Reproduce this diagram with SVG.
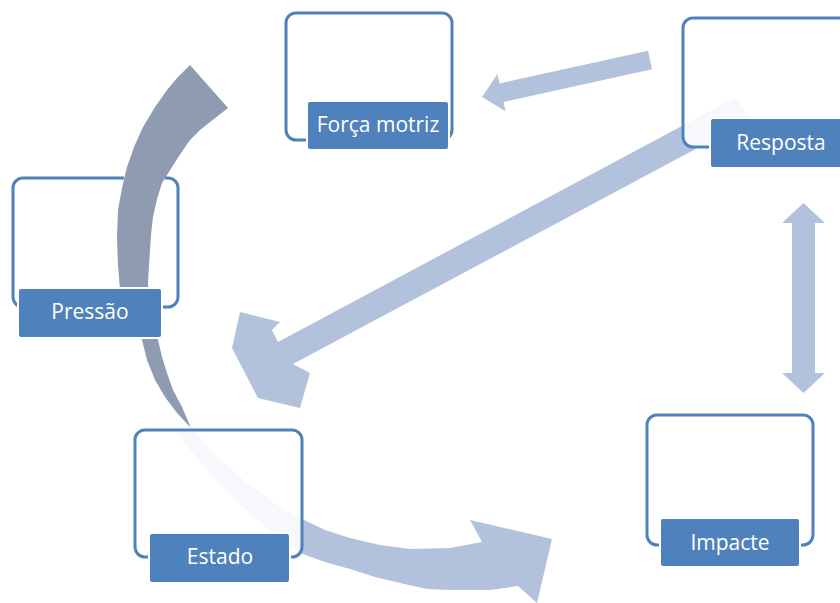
<svg xmlns="http://www.w3.org/2000/svg" width="840" height="603" viewBox="0 0 840 603">
<style>
.frame{fill:#ffffff;fill-opacity:0.88;stroke:#4f81bd;stroke-width:3}
.open{fill:none;stroke:#4f81bd;stroke-width:3}
.label{fill:#4f81bd;stroke:#ffffff;stroke-width:2}
.txt{font-family:"Open Sans","Liberation Sans",sans-serif;font-size:21px;fill:#ffffff;text-anchor:middle}
.arr{fill:#b3c2dc}
.grey{fill:#8e9bb1}
</style>
<rect x="0" y="0" width="840" height="603" fill="#ffffff"/>
<g id="connectors">
  <path class="arr" d="M648,50.7 L499.5,83.4 L497.4,74.1 L482,97 L505.6,111.3 L503.5,102 L652,69.3 Z"/>
  <path class="arr" d="M735,97.5 L278,342 L272,330 L280,322 L240,312 L232,348 L258,398 L300,408 L310,373 L293,364 L750,120 Z"/>
  <path class="arr" d="M803.5,203 L825,223 L815,223 L815,373 L825,373 L803.5,393 L782,373 L792,373 L792,223 L782,223 Z"/>
  <path class="arr" d="M196,432 L213,453 L247,483 L280,507 L300,518 L325,530 L350,538 L380,545 L410,549 L450,548 L482,542 L470,520 L552,539 L537,603 L518,586 L490,590 L450,590 L427,589 L400,583 L375,577 L350,569 L325,562 L300,553 L267,528 L235,500 L205,468 L182,440 L176,432 Z"/>
  <path class="grey" d="M190,65 L178,77 L167,90 L155,107 L143,127 L134,147 L127,167 L122,188 L118,210 L117,237 L118,265 L120,290 L126,312 L134,328 L142,340 L147,360 L155,380 L165,397 L177,413 L191,428 L182,407 L173,390 L167,373 L162,357 L158,340 L153,320 L149,300 L148,283 L149,265 L150,250 L151,235 L153,217 L157,199 L162,183 L172,167 L181,153 L190,140 L200,130 L210,122 L228,108 Z"/>
</g>
<g id="forca-motriz">
  <rect class="frame" x="286" y="13" width="166" height="127" rx="10"/>
  <rect class="label" x="307" y="101" width="142" height="49" rx="3"/>
  <text class="txt" x="378" y="132">Força motriz</text>
</g>
<g id="resposta">
  <rect class="frame" x="683" y="18" width="166" height="129" rx="10"/>
  <rect class="label" x="710" y="118" width="142" height="50" rx="3"/>
  <text class="txt" x="781" y="150">Resposta</text>
</g>
<g id="pressao">
  <path class="open" d="M165,178 H168 A10,10 0 0 1 178,188 V297 A10,10 0 0 1 168,307 H23 A10,10 0 0 1 13,297 V188 A10,10 0 0 1 23,178 H124"/>
  <rect class="label" x="18" y="288" width="144" height="50" rx="3"/>
  <text class="txt" x="90" y="319">Pressão</text>
</g>
<g id="estado">
  <rect class="frame" x="135" y="430" width="167" height="127" rx="10"/>
  <rect class="label" x="149" y="533" width="141" height="50" rx="3"/>
  <text class="txt" x="220" y="564">Estado</text>
</g>
<g id="impacte">
  <rect class="frame" x="647" y="415" width="166" height="130" rx="10"/>
  <rect class="label" x="660" y="518" width="140" height="49" rx="3"/>
  <text class="txt" x="730" y="550">Impacte</text>
</g>
</svg>
